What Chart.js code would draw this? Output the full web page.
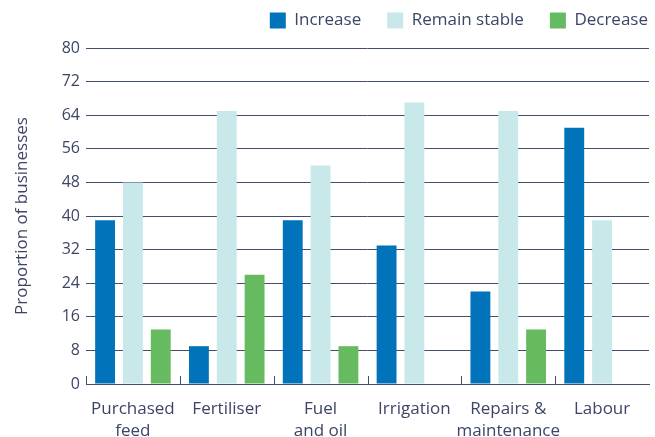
<!DOCTYPE html>
<html>
<head>
<meta charset="utf-8">
<script src="https://cdn.jsdelivr.net/npm/chart.js@4/dist/chart.umd.min.js"></script>
<style>
  html, body { margin: 0; padding: 0; background: #fff; }
  #wrap { width: 655px; height: 437px; }
</style>
</head>
<body>
<div id="wrap"><canvas id="chart" width="655" height="437"></canvas></div>
<script>
const categories = [['Purchased', 'feed'], 'Fertiliser', ['Fuel', 'and oil'], 'Irrigation', ['Repairs &', 'maintenance'], 'Labour'];
const increase = [39, 9, 39, 33, 22, 61];
const remainStable = [48, 65, 52, 67, 65, 39];
const decrease = [13, 26, 9, 0, 13, 0];
const yTicks = [0, 8, 16, 24, 32, 40, 48, 56, 64, 72, 80];

const inkColor = '#3d4566';
const gridColor = '#434d6d';
const legendGap = 26;

// small upward ticks on the baseline at the left edge of each category
const categoryTicks = {
    id: 'categoryTicks',
    afterDatasetsDraw(chart) {
        const x = chart.scales.x;
        const y = chart.scales.y;
        const base = y.getPixelForValue(0);
        const half = (x.getPixelForValue(1) - x.getPixelForValue(0)) / 2;
        const ctx = chart.ctx;
        ctx.save();
        ctx.strokeStyle = gridColor;
        ctx.lineWidth = 1;
        for (let i = 0; i < categories.length; i++) {
            const px = Math.round(x.getPixelForValue(i) - half) + 0.5;
            ctx.beginPath();
            ctx.moveTo(px, base);
            ctx.lineTo(px, base - 8);
            ctx.stroke();
        }
        ctx.restore();
    }
};

// fixed legend band above the plot, legend row pushed up and flush right
const legendPlacement = {
    id: 'legendPlacement',
    beforeLayout(chart) {
        const legend = chart.legend;
        if (legend && !legend._fixedFit) {
            const fit = legend.fit;
            legend.fit = function () {
                fit.call(this);
                this.height = 48;
            };
            legend._fixedFit = true;
        }
    },
    afterLayout(chart) {
        const legend = chart.legend;
        legend.top = 12 - legendGap;
        legend.right += legendGap - 1;
    }
};

Chart.defaults.font.family = '"Open Sans", Lato, sans-serif';
Chart.defaults.font.size = 16;
Chart.defaults.color = inkColor;

var ctx = document.getElementById('chart').getContext('2d');
var chart = new Chart(ctx, {
    type: 'bar',
    data: {
        labels: categories,
        datasets: [{
            label: 'Increase',
            data: increase,
            backgroundColor: '#0073bb'
        }, {
            label: 'Remain stable',
            data: remainStable,
            backgroundColor: '#c8e8ea'
        }, {
            label: 'Decrease',
            data: decrease,
            backgroundColor: '#66bb60'
        }]
    },
    options: {
        responsive: false,
        animation: false,
        categoryPercentage: 0.89,
        barPercentage: 0.714,
        layout: {
            padding: { left: 0, right: 6, top: 0, bottom: 0 }
        },
        scales: {
            y: {
                min: 0,
                max: 80,
                afterBuildTicks: (scale) => {
                    scale.ticks = yTicks.map(v => ({ value: v }));
                },
                afterFit: (scale) => {
                    scale.width = 86;
                },
                grid: {
                    color: gridColor,
                    lineWidth: 1,
                    drawTicks: false
                },
                border: { display: false },
                ticks: {
                    padding: 6,
                    color: inkColor
                },
                title: {
                    display: true,
                    text: 'Proportion of businesses',
                    color: inkColor,
                    font: { size: 17 },
                    padding: { top: 12, bottom: 0 }
                }
            },
            x: {
                afterFit: (scale) => {
                    scale.height = 53;
                },
                grid: {
                    display: false,
                    drawTicks: false
                },
                border: {
                    display: true,
                    color: gridColor,
                    width: 1
                },
                ticks: {
                    padding: 15,
                    maxRotation: 0,
                    autoSkip: false,
                    color: inkColor,
                    font: { size: 17, lineHeight: 1.25 }
                }
            }
        },
        plugins: {
            legend: {
                position: 'top',
                align: 'end',
                labels: {
                    boxWidth: 16,
                    boxHeight: 16,
                    padding: legendGap,
                    color: inkColor,
                    font: { size: 17 }
                }
            },
            tooltip: { enabled: false }
        }
    },
    plugins: [categoryTicks, legendPlacement]
});
</script>
</body>
</html>
